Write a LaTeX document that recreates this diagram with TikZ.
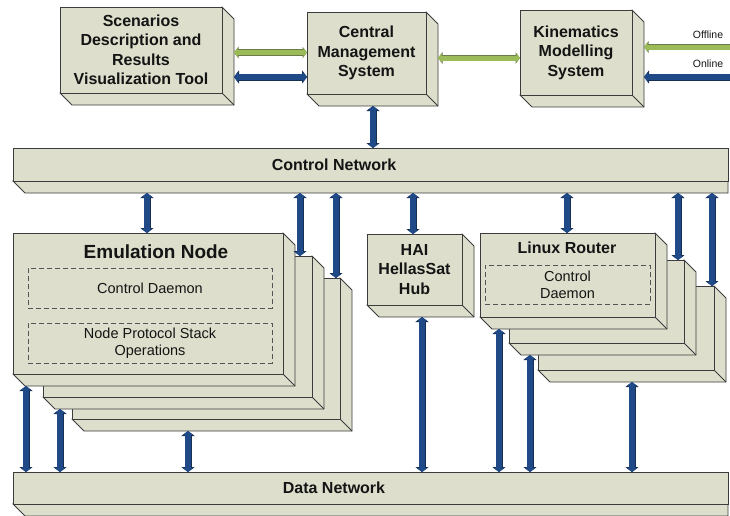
\documentclass[tikz,border=0pt]{standalone}
\usepackage{fontspec}
\setmainfont{Liberation Sans}
\usetikzlibrary{arrows.meta}
\definecolor{cubefill}{HTML}{DDDFCC}
\definecolor{edge}{HTML}{3C3C3C}
\definecolor{busblue}{HTML}{1F4A87}
\definecolor{busdark}{HTML}{172F52}
\definecolor{busgreen}{HTML}{9BBB59}
\definecolor{greendark}{HTML}{6B7B4B}
\definecolor{txt}{HTML}{141414}
\definecolor{dashc}{HTML}{555555}
\newcommand\cubedepth{12}
\newcommand\mycube[7][]{%
  \draw[face] (#5,#4) -- ({#5+\cubedepth},{#4+\cubedepth}) -- ({#5+\cubedepth},{#6+\cubedepth}) -- ({#3+\cubedepth},{#6+\cubedepth}) -- (#3,#6) -- cycle;
  \draw[face] (#5,#6) -- ({#5+\cubedepth},{#6+\cubedepth});
  \node[frontface, minimum width={(#5-#3)*1pt}, minimum height={(#6-#4)*1pt}, #1] (#2) at (#3,#4) {#7};
  \coordinate (#2-ob) at ({#3+\cubedepth},{#6+\cubedepth});
  \coordinate (#2-or) at ({#5+\cubedepth},{#4+\cubedepth});
}
% a bar whose right end is cut at the picture edge: only the lower face shows
\newcommand\mybar[5]{%
  \draw[face] (#2,#5) -- (#4,#5) -- ({#4},{#5+\cubedepth}) -- ({#2+\cubedepth},{#5+\cubedepth}) -- cycle;
  \node[frontface, minimum width={(#4-#2)*1pt}, minimum height={(#5-#3)*1pt}] (#1) at (#2,#3) {};
  \coordinate (#1-ob) at ({#2+\cubedepth},{#5+\cubedepth});
}
\tikzset{
  face/.style={fill=cubefill, draw=edge, line width=0.8pt, line join=miter},
  frontface/.style={face, inner sep=0pt, outer sep=0pt, anchor=north west},
  title/.style={font=\fontsize{16}{19.5}\selectfont\bfseries, align=center, text=txt, inner sep=0pt},
  bigtitle/.style={font=\fontsize{19}{23}\selectfont\bfseries, align=center, text=txt, inner sep=0pt},
  plain/.style={font=\fontsize{14.5}{17.5}\selectfont, align=center, text=txt},
  small/.style={font=\fontsize{10.5}{12}\selectfont, text=txt, inner sep=0pt},
  dbox/.style={plain, draw=dashc, line width=0.9pt, dash pattern=on 5pt off 3pt, inner sep=0pt},
  bbus/.style={line width=5.5pt, draw=busblue, >={Triangle[length=4pt,width=10.5pt]}, #1,
    preaction={draw=busdark, line width=7pt, >={Triangle[length=5pt,width=13pt]}, #1}},
  bbus/.default={<->},
  gbus/.style={line width=5pt, draw=busgreen, >={Triangle[length=3.5pt,width=9pt]}, #1,
    preaction={draw=greendark, line width=6.5pt, >={Triangle[length=4.5pt,width=11.5pt]}, #1}},
  gbus/.default={<->},
}
\begin{document}
\begin{tikzpicture}[x=1pt,y=-1pt]
\useasboundingbox (0,0) rectangle (730,515);
\clip (0,0) rectangle (730,515);

% top row
\mycube[title]{scen}{60}{7}{222}{93}{Scenarios\\Description and\\Results\\Visualization Tool}
\mycube[title]{cms}{307}{12}{426}{94}{Central\\Management\\System}
\mycube[title]{kin}{520}{10}{632}{95}{Kinematics\\Modelling\\System}

% networks
\mybar{ctrl}{13}{148}{728}{181}
\node[title] (ctrltxt) at (334,164.5) {Control Network};
\mybar{dnet}{13}{472}{728}{504}
\node[title] (dnettxt) at (334,488) {Data Network};

% emulation node stack
\mycube{emu3}{72}{278}{340}{419}{}
\mycube{emu2}{43}{256}{312}{397}{}
\mycube{emu1}{13}{233}{283}{374}{}
\node[bigtitle] (emutitle) at (156,252) {Emulation Node};
\node[dbox, minimum width=244pt, minimum height=40pt] (emucd) at (150,288) {Control Daemon};
\node[dbox, minimum width=244pt, minimum height=40pt] (emunps) at (150,343) {Node Protocol Stack\\Operations};

% HAI hub
\mycube[title]{hai}{367}{234}{462}{305}{HAI\\HellasSat\\Hub}

% linux router stack
\mycube{lr3}{538}{286}{714}{370}{}
\mycube{lr2}{509}{260}{684}{343}{}
\mycube{lr1}{480}{233}{655}{317}{}
\node[title] (lrtitle) at (567,248) {Linux Router};
\node[dbox, minimum width=165pt, minimum height=39pt, font=\fontsize{14.5}{17}\selectfont] (lrcd) at (567.5,284.5) {Control\\Daemon};

% top connectors
\draw[gbus] (scen-or |- 0,52.5) -- (cms.west |- 0,52.5);
\draw[bbus] (scen-or |- 0,77) -- (cms.west |- 0,77);
\draw[gbus] (cms-or |- 0,58) -- (kin.west |- 0,58);
\coordinate (offend) at (738,47);
\coordinate (onend) at (738,77);
\draw[gbus=<-] (kin-or |- offend) -- (offend);
\draw[bbus=<-] (kin-or |- onend) -- (onend);
\node[small] (offl) at (708,35) {Offline};
\node[small] (onl) at (708,64) {Online};
\draw[bbus] (cms-ob -| 373,0) -- (ctrl.north -| 373,0);

% control network connectors
\draw[bbus] (ctrl-ob -| 147,0) -- (emu1.north -| 147,0);
\draw[bbus] (ctrl-ob -| 300,0) -- (emu2.north -| 300,0);
\draw[bbus] (ctrl-ob -| 336,0) -- (emu3.north -| 336,0);
\draw[bbus] (ctrl-ob -| 413,0) -- (hai.north -| 413,0);
\draw[bbus] (ctrl-ob -| 567,0) -- (lr1.north -| 567,0);
\draw[bbus] (ctrl-ob -| 678,0) -- (lr2.north -| 678,0);
\draw[bbus] (ctrl-ob -| 712,0) -- (lr3.north -| 712,0);

% data network connectors
\draw[bbus] (emu1-ob -| 26,0) -- (dnet.north -| 26,0);
\draw[bbus] (emu2-ob -| 60,0) -- (dnet.north -| 60,0);
\draw[bbus] (emu3-ob -| 188,0) -- (dnet.north -| 188,0);
\draw[bbus] (hai-ob -| 422,0) -- (dnet.north -| 422,0);
\draw[bbus] (lr1-ob -| 499,0) -- (dnet.north -| 499,0);
\draw[bbus] (lr2-ob -| 530,0) -- (dnet.north -| 530,0);
\draw[bbus] (lr3-ob -| 632,0) -- (dnet.north -| 632,0);
\end{tikzpicture}
\end{document}
